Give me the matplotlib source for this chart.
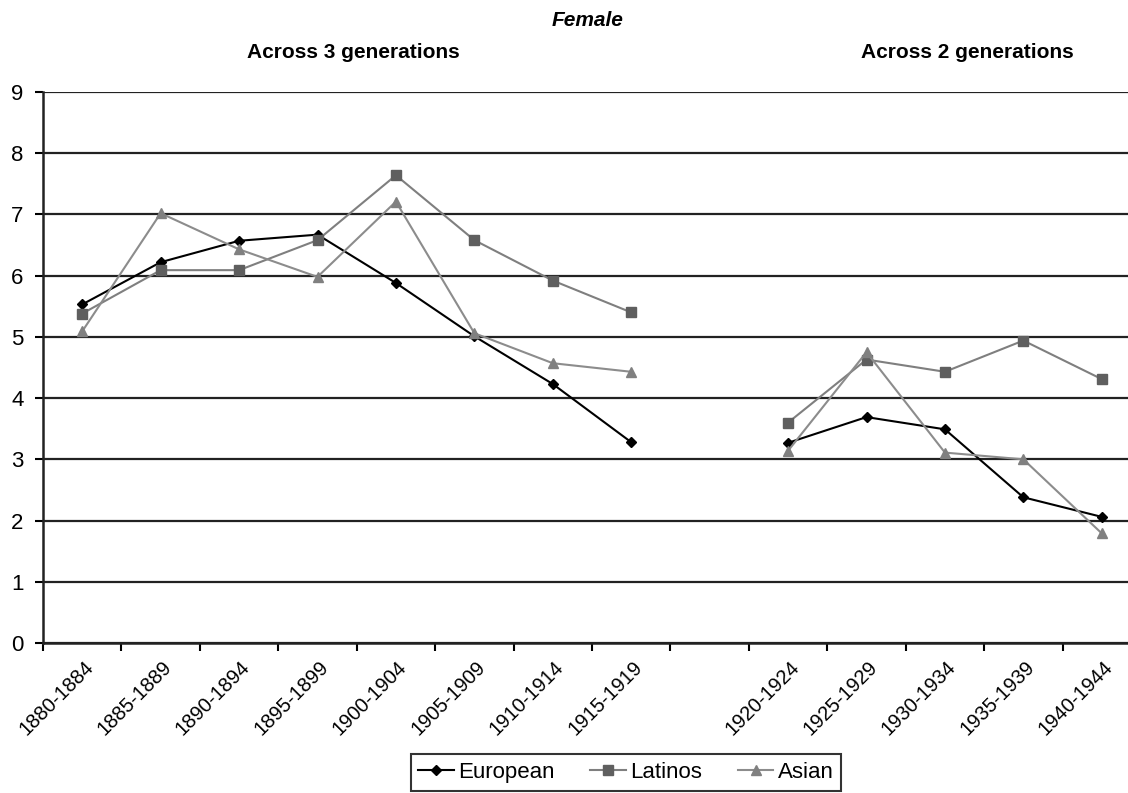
import numpy as np
import matplotlib
matplotlib.use('Agg')
import matplotlib.pyplot as plt
from matplotlib.transforms import ScaledTranslation

plt.rcParams['font.family'] = ['Liberation Sans', 'DejaVu Sans']

# カテゴリ（1915-1919 と 1920-1924 の間は空き）
labels_3gen = ['1880-1884', '1885-1889', '1890-1894', '1895-1899',
               '1900-1904', '1905-1909', '1910-1914', '1915-1919']
labels_2gen = ['1920-1924', '1925-1929', '1930-1934', '1935-1939', '1940-1944']

european_3gen = [5.53, 6.22, 6.57, 6.67, 5.88, 5.01, 4.23, 3.28]
latinos_3gen = [5.38, 6.09, 6.09, 6.58, 7.64, 6.58, 5.92, 5.40]
asian_3gen = [5.09, 7.02, 6.43, 5.98, 7.21, 5.06, 4.57, 4.43]

european_2gen = [3.27, 3.69, 3.49, 2.38, 2.06]
latinos_2gen = [3.60, 4.63, 4.43, 4.94, 4.31]
asian_2gen = [3.14, 4.75, 3.11, 3.00, 1.79]

x3 = np.arange(len(labels_3gen))
x2 = np.arange(len(labels_2gen)) + len(labels_3gen) + 1
n_cat = len(labels_3gen) + 1 + len(labels_2gen)

fig = plt.figure(figsize=(11.28, 7.93), dpi=100)
ax = fig.add_axes([43 / 1128, 1 - 643 / 793, (1141 - 43) / 1128, (643 - 92) / 793])

styles = {
    'European': dict(color='black', marker='D', markersize=5.5, markerfacecolor='black',
                     markeredgecolor='black', lw=1.5),
    'Latinos': dict(color='#7f7f7f', marker='s', markersize=7, markerfacecolor='#5f5f5f',
                    markeredgecolor='#5f5f5f', lw=1.5),
    'Asian': dict(color='#8c8c8c', marker='^', markersize=7, markerfacecolor='#808080',
                  markeredgecolor='#808080', lw=1.5),
}

for name, a, b in [('European', european_3gen, european_2gen),
                   ('Latinos', latinos_3gen, latinos_2gen),
                   ('Asian', asian_3gen, asian_2gen)]:
    ax.plot(x3, a, label=name, zorder=3, **styles[name])
    ax.plot(x2, b, zorder=3, **styles[name])

ax.set_xlim(-0.5, n_cat - 0.5)
ax.set_ylim(0, 9)
ax.set_yticks(range(0, 10))
ax.yaxis.grid(True, color='#222222', lw=1.6)
ax.set_axisbelow(True)

# 目盛りはカテゴリの境界、ラベルは中央
ax.set_xticks(np.arange(-0.5, n_cat - 0.5, 1.0))
ax.set_xticklabels([])
ax.set_xticks(list(x3) + list(x2), minor=True)
ax.set_xticklabels(labels_3gen + labels_2gen, minor=True, rotation=45,
                   ha='right', va='center', rotation_mode='anchor', fontsize=14.5)
ax.tick_params(axis='x', which='minor', length=0, pad=15)
ax.tick_params(axis='x', which='major', length=6, width=1.5, direction='out')
ax.tick_params(axis='y', length=6, width=1.5, labelsize=16, pad=8)
offset = ScaledTranslation(8 / 100, 0, fig.dpi_scale_trans)
for lab in ax.get_xticklabels(minor=True):
    lab.set_transform(lab.get_transform() + offset)

for side in ['top', 'right']:
    ax.spines[side].set_visible(False)
for side in ['left', 'bottom']:
    ax.spines[side].set_linewidth(1.8)
    ax.spines[side].set_color('#222222')

fig.text(588 / 1128, 1 - 20 / 793, 'Female', ha='center', va='center',
         fontsize=15, fontweight='bold', fontstyle='italic')
fig.text(353 / 1128, 1 - 53 / 793, 'Across 3 generations', ha='center', va='center',
         fontsize=15, fontweight='bold')
fig.text(967 / 1128, 1 - 53 / 793, 'Across 2 generations', ha='center', va='center',
         fontsize=15, fontweight='bold')

leg = fig.legend(loc='lower center', bbox_to_anchor=(626 / 1128, 0.0), ncol=3,
                 fontsize=16, frameon=True, fancybox=False, edgecolor='black',
                 handlelength=1.6, handletextpad=0.2, columnspacing=1.6,
                 borderpad=0.35, borderaxespad=0.1)
leg.get_frame().set_linewidth(1.5)

fig.savefig('out.png', dpi=100)
